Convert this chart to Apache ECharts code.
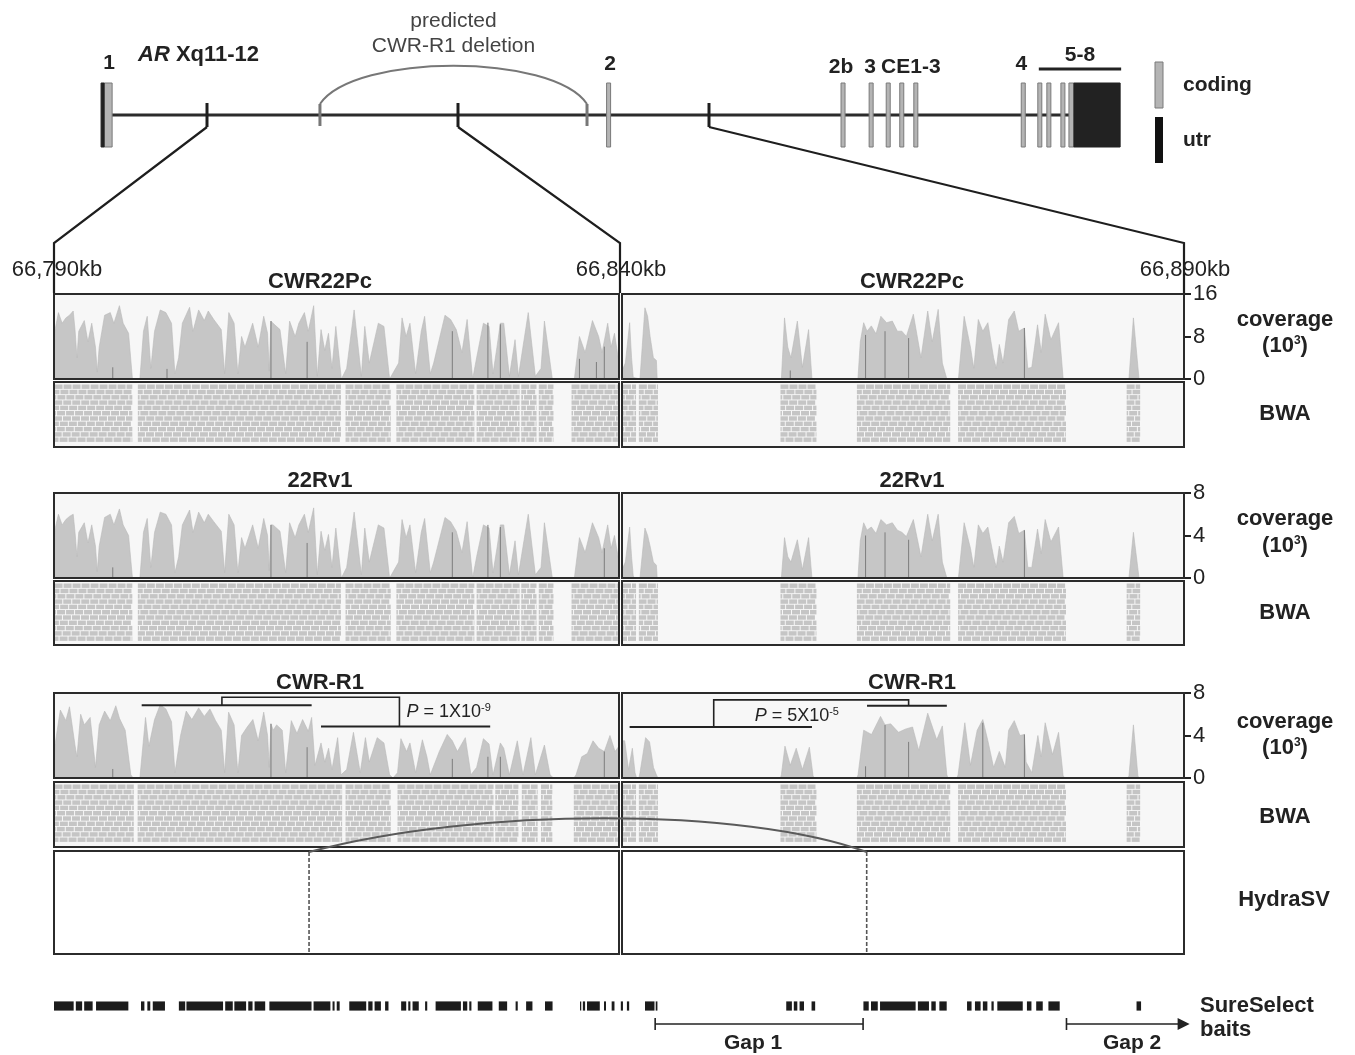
<!DOCTYPE html>
<html>
<head>
<meta charset="utf-8">
<script src="https://cdn.jsdelivr.net/npm/echarts@6/dist/echarts.min.js"></script>
<style>
html,body{margin:0;padding:0;background:#fff;}
#chart{width:1355px;height:1055px;}
</style>
</head>
<body>
<div id="chart"></div>
<script>
// ======================= DATA =======================
const windowStarts = [66790, 66840];           // kb, left / right window
const positionLabels = ['66,790kb', '66,840kb', '66,890kb'];
const sampleNames = ['CWR22Pc', '22Rv1', 'CWR-R1'];
const coverageMax = [16, 8, 8];                 // 10^3 reads
const coverageStep = [8, 4, 4];

// ---- AR gene model (kb on chrX) ----
const geneBackbone = [[66770.5, 66962.7]];
const exonsCoding = [[66769.5,66771.1],[66869.6,66870.4],[66916.3,66917.1],[66921.9,66922.7],
  [66925.3,66926.1],[66928.0,66928.8],[66930.8,66931.6],[66952.2,66953.0],[66955.5,66956.3],
  [66957.3,66958.1],[66960.1,66960.9],[66961.7,66962.7]];
const exonsUtr = [[66768.9,66769.5],[66962.7,66971.9]];
const zoomTicks = [66790, 66840, 66890];
const predictedDeletion = [[66812.5, 66865.7]];
const exonLabels = [['1',66770.5],['2',66870.3],['2b',66916.3],['3',66922.1],['CE1-3',66930.2],['4',66952.2]];
const exonGroup58 = [[66955.7, 66972.1, '5-8']];

// ---- coverage: [kb offset from window start, coverage (10^3)] ----
const covCWR22PcLeft = [[0,0],[0.07,9],[0.39,12.5],[0.72,10.5],[1.05,11.5],[1.37,12],[1.7,12.8],[1.87,9],[2.03,4],[2.19,9],[2.68,11],[3.0,7],[3.34,10.5],[3.67,6],[3.83,1.3],[4.0,6],[4.48,12],[4.98,12.5],[5.3,10.5],[5.79,13.8],[6.12,10.5],[6.6,8.6],[6.94,0],
 [7.6,0],[7.92,9],[8.25,11.8],[8.57,2],[8.9,9],[9.4,13],[9.9,12.5],[10.4,10.5],[10.7,1],[11.03,4],[11.36,10.5],[12.0,13.5],[12.3,9],[12.8,13],[13.3,11],[13.65,12.8],[14.14,11.2],[14.8,9.3],[15.1,1],[15.47,12.5],[15.94,10.5],[16.27,1],[16.6,8],[16.9,6],[17.58,10.5],[18.07,6],[18.56,11.8],[18.9,8.6],[19.05,1.5],[19.2,10.9],[19.38,10.5],[20.0,9.3],[20.5,1],[20.85,10.9],[21.34,8],[21.67,10.5],[22.16,12.5],[22.5,9],[22.98,13.8],[23.3,0.5],[23.63,9.3],[23.96,5.4],[24.29,8.6],[24.6,2],[24.94,9.9],[25.43,0],
 [25.9,2],[26.56,13],[27.2,0.5],[27.5,9.9],[27.9,3],[28.7,10.5],[29.2,9.9],[29.7,0],
 [30.5,3],[30.8,11.5],[31.16,8],[31.5,10.5],[32.0,1],[32.5,9],[32.8,11.8],[33.3,1],[33.6,3],[34.6,12],[35.1,11.2],[35.6,9.3],[36.1,5],[36.56,11.2],[37.05,0],[37.4,4],[38.0,10.5],[38.5,9.9],[38.85,1],[39.2,6],[39.5,10.5],[39.8,10.5],[40.3,0.5],[40.8,7.4],[41.1,0.5],[41.97,12.5],[42.6,0.5],[43.1,2],[43.4,10.9],[44.1,0],
 [46.05,0],[46.5,8],[47.0,5],[47.65,11],[48.2,8],[48.5,5],[49.0,10.5],[49.3,6],[49.6,8.6],[50,3]];
const covCWR22PcRight = [[0,1.6],[0.3,3],[0.68,10.6],[0.85,4],[1.0,0.3],[1.1,0],[1.6,0],[2.04,13.4],[2.28,11.8],[2.5,8],[2.79,4],[3.06,3.5],[3.13,0],
 [14.18,0],[14.46,11.5],[14.75,6],[15.03,4],[15.6,10.9],[16.05,2.2],[16.6,9.3],[16.9,0],
 [20.99,0],[21.2,7],[21.5,10.6],[21.8,9],[22.18,10],[22.6,8.5],[23.03,11.8],[23.54,10.6],[24.05,10.9],[24.5,9],[24.9,9],[25.3,8],[25.92,12.2],[26.6,4],[27.2,12.8],[27.6,7],[28.13,13.1],[28.5,3],[28.9,0],
 [29.93,0],[30.44,11.8],[31.0,6],[31.3,2],[31.7,11.2],[32.1,9],[32.55,10.6],[33.06,4],[33.3,2],[33.57,6.5],[33.9,3],[34.4,11.2],[34.9,12.8],[35.3,9],[35.8,9.6],[36.1,2],[36.46,2.2],[36.97,10.2],[37.3,5],[37.65,12.2],[38.16,7.4],[38.84,10.6],[39.25,0],
 [45.1,0],[45.5,11.5],[46.0,0]];
const cov22Rv1Left = [[0,0],[0.07,4.5],[0.39,6],[0.72,5],[1.05,5.5],[1.37,5.8],[1.7,6],[1.87,4.2],[2.03,2],[2.19,4.3],[2.68,5.2],[3.0,3.3],[3.34,5],[3.67,3],[3.83,0.6],[4.0,3],[4.48,5.7],[4.98,6],[5.3,5],[5.79,6.5],[6.12,5],[6.6,4],[6.94,0],[7.6,0],[7.92,4.3],[8.25,5.6],[8.57,1],[8.9,4.3],[9.4,6.2],[9.9,6],[10.4,5],[10.7,0.5],[11.03,2],[11.36,5],[12.0,6.4],[12.3,4.3],[12.8,6.2],[13.3,5.2],[13.65,6],[14.14,5.3],[14.8,4.4],[15.1,0.5],[15.47,6],[15.94,5],[16.27,0.5],[16.6,3.8],[16.9,2.8],[17.58,5],[18.07,2.8],[18.56,5.6],[18.9,4],[19.05,0.7],[19.2,5],[19.38,5],[20.0,4.4],[20.5,0.5],[20.85,5.2],[21.34,3.8],[21.67,5],[22.16,6],[22.5,4.3],[22.98,6.6],[23.3,0.3],[23.63,4.4],[23.96,2.6],[24.29,4.1],[24.6,1],[24.94,4.7],[25.43,0],[25.9,1],[26.56,6.2],[27.2,0.3],[27.5,4.7],[27.9,1.5],[28.7,5],[29.2,4.7],[29.7,0],[30.5,1.5],[30.8,5.5],[31.16,3.8],[31.5,5],[32.0,0.5],[32.5,4.3],[32.8,5.6],[33.3,0.5],[33.6,1.5],[34.6,5.7],[35.1,5.3],[35.6,4.4],[36.1,2.4],[36.56,5.3],[37.05,0],[37.4,2],[38.0,5],[38.5,4.7],[38.85,0.5],[39.2,2.8],[39.5,5],[39.8,5],[40.3,0.3],[40.8,3.5],[41.1,0.3],[41.97,6],[42.6,0.3],[43.1,1],[43.4,5.2],[44.1,0],[46.05,0],[46.5,3.8],[47.0,2.4],[47.65,5.2],[48.2,3.8],[48.5,2.4],[49.0,5],[49.3,2.8],[49.6,4],[50,1.5]];
const cov22Rv1Right = [[0,0.8],[0.3,1.5],[0.68,4.8],[0.85,2],[1.0,0.2],[1.1,0],[1.6,0],[2.04,4.7],[2.28,4],[2.5,3],[2.79,1.5],[3.06,1.2],[3.13,0],[14.18,0],[14.46,3.8],[14.75,2],[15.03,1.5],[15.6,3.6],[16.05,0.8],[16.6,3.8],[16.9,0],[20.99,0],[21.2,3.5],[21.5,5.2],[21.8,4.5],[22.18,4.8],[22.6,4.2],[23.03,5.5],[23.54,5],[24.05,5.2],[24.5,4.5],[24.9,4.3],[25.3,3.9],[25.92,5.5],[26.6,2],[27.2,6],[27.6,3.5],[28.13,6],[28.5,1.5],[28.9,0],[29.93,0],[30.44,5.2],[31.0,2.8],[31.3,1],[31.7,5],[32.1,4.2],[32.55,4.8],[33.06,2],[33.3,1],[33.57,3],[33.9,1.5],[34.4,5.2],[34.9,5.8],[35.3,4.2],[35.8,4.5],[36.1,1],[36.46,1],[36.97,4.6],[37.3,2.3],[37.65,5.5],[38.16,3.4],[38.84,4.8],[39.25,0],[45.1,0],[45.5,4.3],[46.0,0]];
const covCWRR1Left = [[0,0],[0.07,3],[0.56,6.4],[1.05,5.4],[1.37,6.7],[1.87,3],[2.03,2],[2.36,6],[2.68,5],[3.2,5.7],[3.67,1],[4.0,5],[4.48,6.3],[4.98,5.4],[5.47,6.8],[5.8,5.6],[6.3,4.5],[6.8,0.3],[7.0,0],[7.6,0],[8.1,5.7],[8.4,3],[8.9,5.5],[9.4,6.9],[9.9,6.5],[10.4,5.3],[10.7,0.5],[11.2,4],[11.7,6.3],[12.2,5.5],[12.8,6.6],[13.3,5.8],[13.8,6.5],[14.3,5.4],[14.8,4.5],[15.1,0.5],[15.45,6.2],[15.94,5],[16.27,0.5],[16.6,4],[17.1,4.8],[17.6,5.5],[18.07,3.5],[18.56,6.2],[18.9,4],[19.05,1],[19.2,5.1],[19.4,4.5],[19.7,5],[20.2,4.5],[20.5,0.5],[21.0,5.4],[21.5,4.2],[22.0,5.5],[22.5,4.4],[22.8,5.7],[23.1,1.2],[23.63,3.3],[23.96,1.5],[24.3,2.8],[24.6,0.8],[25.1,3.8],[25.4,0.3],[25.9,0.8],[26.5,4.3],[27.1,0.5],[27.56,3.8],[27.9,1.5],[28.6,3.8],[29.2,3.3],[29.7,0.3],[30.0,0],[30.4,0.5],[30.7,3.7],[31.2,2.5],[31.5,3.3],[32.0,0.5],[32.6,3.6],[33.0,2],[33.3,0.3],[34.1,2.5],[34.8,4.1],[35.25,3.5],[35.7,2.5],[36.4,3.8],[36.9,0.3],[37.4,1],[38.0,3.7],[38.5,3.2],[38.85,0.3],[39.5,3.3],[39.8,2.8],[40.3,0.3],[41.0,3.5],[41.5,0.3],[42.2,3.8],[42.6,0.3],[43.4,3.1],[43.9,0.3],[44.2,0],[46.0,0],[46.2,0.3],[46.7,2],[47.2,2.3],[47.7,3.5],[48.2,2.8],[48.7,2.5],[49.2,4],[49.65,2.5],[50,3]];
const covCWRR1Right = [[0,3.5],[0.24,3.5],[0.58,0.8],[0.92,2.8],[1.16,0.5],[1.3,0],[1.5,0],[1.6,0.5],[2.1,3.8],[2.45,3.4],[2.8,1],[3.06,0.3],[3.2,0],[14.1,0],[14.18,0.3],[14.5,3],[14.97,1.2],[15.5,2.8],[16.05,0.8],[16.67,2.9],[17.0,0.2],[17.1,0],[20.9,0],[21.0,0.3],[21.5,4.5],[22.2,4.1],[23.0,5.8],[23.4,5],[23.9,5.1],[24.6,4.3],[25.2,4.6],[25.85,4.8],[26.4,2.6],[27.2,6.1],[28.0,3.6],[28.5,4.9],[28.9,0.3],[29.0,0],[29.8,0],[29.9,0.3],[30.5,5.2],[31.0,1.2],[31.6,4.5],[32.1,5.5],[32.55,3.5],[33.06,1],[33.57,2.5],[34.1,1],[34.4,4.5],[34.9,5.4],[35.4,4],[35.8,4.1],[35.95,1.5],[36.46,0.5],[37.0,4],[37.3,2],[37.65,5.2],[38.3,2.2],[38.84,4.3],[39.25,0.2],[39.4,0],[45.0,0],[45.1,0.2],[45.5,5],[45.9,0.2],[46.0,0]];

// ---- thin dark single-position spikes in coverage: [kb offset, height] ----
const darkCWR22PcLeft = [[5.2,2.2],[10.0,1.9],[19.2,10.9],[22.4,7.0],[35.25,9],[38.4,10.6],[39.5,10.3],[46.5,3.8],[48.0,3.2],[48.7,6.1]];
const darkCWR22PcRight = [[14.97,1.6],[21.67,8.3],[23.4,9],[25.5,7.7],[35.8,9.6]];
const dark22Rv1Left = [[5.2,1],[19.2,5],[22.4,3.3],[35.25,4.3],[38.4,5],[39.5,4.8],[48.7,2.8]];
const dark22Rv1Right = [[21.67,4],[23.4,4.3],[25.5,3.6],[35.8,4.5]];
const darkCWRR1Left = [[5.2,0.85],[19.2,5.1],[22.4,2.9],[35.25,1.8],[38.4,2],[39.5,2],[48.7,2.5]];
const darkCWRR1Right = [[21.67,1.1],[23.4,5],[25.5,3.4],[32.1,5.2],[35.8,4.1]];

// ---- BWA read blocks: [start, end] kb offset ----
const bwaCWR22PcLeft = [[0.05,6.93],[7.42,25.4],[25.8,29.8],[30.3,37.2],[37.4,41.2],[41.35,42.7],[42.9,44.2],[45.8,49.9]];
const bwaCWR22PcRight = [[0.09,1.25],[1.5,3.2],[14.1,17.3],[20.9,29.2],[29.9,39.5],[44.9,46.1]];
const bwa22Rv1Left = [[0.05,6.93],[7.42,25.4],[25.8,29.8],[30.3,37.2],[37.4,41.2],[41.35,42.7],[42.9,44.2],[45.8,49.9]];
const bwa22Rv1Right = [[0.09,1.25],[1.5,3.2],[14.1,17.3],[20.9,29.2],[29.9,39.5],[44.9,46.1]];
const bwaCWRR1Left = [[0.05,7.06],[7.4,25.5],[25.8,29.8],[30.4,38.9],[39.05,41.1],[41.4,42.8],[43.1,44.1],[46.0,49.9]];
const bwaCWRR1Right = [[0.09,1.25],[1.5,3.2],[14.1,17.3],[20.9,29.2],[29.9,39.5],[44.9,46.1]];

// ---- CWR-R1 segmentation: [start, end, mean coverage] and brackets ----
const segCWRR1Left = [[7.76,22.8,6.85],[23.63,38.6,4.85]];
const segCWRR1Right = [[0.68,16.9,4.8],[21.8,28.9,6.8]];
const bracketCWRR1Left = [[14.86,6.85,30.57,4.85,7.6]];
const bracketCWRR1Right = [[8.16,4.8,25.5,6.8,7.35]];
const pValueLeft = [[31.2, 6.2, '1X10', '-9']];
const pValueRight = [[11.8, 5.8, '5X10', '-5']];

// ---- HydraSV breakpoints (kb offset) ----
const hydraBreakLeft = [[22.57]];
const hydraBreakRight = [[21.77]];

// ---- SureSelect baits (kb offset from 66,790kb) and gaps ----
const baitIntervals = [[0,1.74],[1.93,2.49],[2.67,3.42],[3.72,6.58],[7.7,8.0],[8.26,8.52],[8.74,9.82],[11.05,11.61],[11.72,14.96],[15.15,15.82],[15.96,17.0],[17.19,17.57],[17.75,18.69],[19.06,22.79],[22.97,24.46],[24.65,24.83],[25.02,25.28],[26.13,27.63],[27.81,28.19],[28.37,28.93],[29.3,29.6],[30.72,31.17],[31.35,31.54],[31.73,32.28],[32.84,33.03],[33.77,36.01],[36.19,36.57],[36.75,36.94],[37.5,38.8],[39.36,40.1],[40.85,41.04],[41.78,42.34],[43.45,44.12],[46.55,46.66],[46.8,47.0],[47.17,48.3],[48.67,48.85],[49.35,49.6],[50.16,50.35],[50.7,50.9],[52.3,53.14],[53.25,53.4],[64.8,65.3],[65.47,65.78],[65.98,66.37],[67.04,67.36],[71.63,72.1],[72.3,72.9],[73.1,76.25],[76.45,77.43],[77.64,78.03],[78.35,79.0],[80.8,81.2],[81.5,82.0],[82.2,82.6],[82.96,83.16],[83.48,85.73],[86.1,86.5],[86.92,87.5],[88.0,89.0],[95.8,96.2]];
const gaps = [[53.2, 71.6, 'Gap 1', 'bar'], [89.6, 100.5, 'Gap 2', 'arrow']];

// ======================= CHART =======================
const FONT = '"Liberation Sans", Arial, Helvetica, sans-serif';
const chart = echarts.init(document.getElementById('chart'), null, {renderer: 'canvas'});

const grids = [], xAxis = [], yAxis = [], series = [];
function addGrid(rect, xr, yr, yExtra, bg) {
  const i = grids.length;
  grids.push({left: rect[0], top: rect[1], width: rect[2], height: rect[3], show: !!bg,
    backgroundColor: bg || 'transparent', borderWidth: 0});
  xAxis.push({gridIndex: i, type: 'value', min: xr[0], max: xr[1], show: false, axisLine: {onZero: false}});
  yAxis.push(Object.assign({gridIndex: i, type: 'value', min: yr[0], max: yr[1], show: false}, yExtra || {axisLine: {onZero: false}}));
  return i;
}
function frame(i) {
  series.push({type: 'custom', xAxisIndex: i, yAxisIndex: i, z: 20, silent: true, data: [[0, 0]],
    renderItem: (p) => ({type: 'rect', shape: {x: p.coordSys.x, y: p.coordSys.y, width: p.coordSys.width, height: p.coordSys.height},
      style: {fill: 'none', stroke: '#2b2b2b', lineWidth: 2}})});
}
function textStyle(text, size, weight, color, align, extra) {
  return Object.assign({text: text, fill: color || '#222', font: (weight || 'normal') + ' ' + size + 'px ' + FONT,
    textAlign: align || 'center', align: align || 'center', textVerticalAlign: 'middle', verticalAlign: 'middle'}, extra || {});
}

// ---------- gene model grid ----------
const G = addGrid([6.2, 15, 1154.6, 200], [66750, 66980], [-1, 1]);
series.push({type: 'custom', xAxisIndex: G, yAxisIndex: G, silent: true, z: 2, data: geneBackbone,
  renderItem: (p, api) => {
    const a = api.coord([api.value(0), 0]), b = api.coord([api.value(1), 0]);
    return {type: 'line', shape: {x1: a[0], y1: a[1], x2: b[0], y2: b[1]}, style: {stroke: '#2b2b2b', lineWidth: 3}};
  }});
series.push({type: 'custom', xAxisIndex: G, yAxisIndex: G, silent: true, z: 3, data: zoomTicks.map(v => [v]),
  renderItem: (p, api) => {
    const a = api.coord([api.value(0), 0]);
    return {type: 'line', shape: {x1: a[0], y1: a[1] - 12, x2: a[0], y2: a[1] + 12}, style: {stroke: '#1e1e1e', lineWidth: 3}};
  }});
series.push({type: 'custom', xAxisIndex: G, yAxisIndex: G, silent: true, z: 3, data: predictedDeletion,
  renderItem: (p, api) => {
    const a = api.coord([api.value(0), 0]), b = api.coord([api.value(1), 0]);
    const w = b[0] - a[0], top = a[1] - 11;
    return {type: 'group', children: [
      {type: 'line', shape: {x1: a[0], y1: top, x2: a[0], y2: a[1] + 11}, style: {stroke: '#777', lineWidth: 3}},
      {type: 'line', shape: {x1: b[0], y1: top, x2: b[0], y2: b[1] + 11}, style: {stroke: '#777', lineWidth: 3}},
      {type: 'bezierCurve', shape: {x1: a[0], y1: top, x2: b[0], y2: top, cpx1: a[0] + 0.13 * w, cpy1: top - 51, cpx2: b[0] - 0.13 * w, cpy2: top - 51},
        style: {stroke: '#777', lineWidth: 2, fill: 'none'}},
      {type: 'text', x: (a[0] + b[0]) / 2, y: top - 83, style: textStyle('predicted', 21, 'normal', '#444')},
      {type: 'text', x: (a[0] + b[0]) / 2, y: top - 58, style: textStyle('CWR-R1 deletion', 21, 'normal', '#444')}
    ]};
  }});
function exonRender(fill, stroke) {
  return (p, api) => {
    const a = api.coord([api.value(0), 0]), b = api.coord([api.value(1), 0]);
    return {type: 'rect', shape: {x: a[0], y: a[1] - 32, width: Math.max(b[0] - a[0], 2.5), height: 64},
      style: {fill: fill, stroke: stroke, lineWidth: 1}};
  };
}
series.push({type: 'custom', xAxisIndex: G, yAxisIndex: G, silent: true, z: 4, data: exonsCoding, renderItem: exonRender('#b4b4b4', '#7a7a7a')});
series.push({type: 'custom', xAxisIndex: G, yAxisIndex: G, silent: true, z: 4, data: exonsUtr, renderItem: exonRender('#222', '#222')});
const exonLabelLift = {'1': 52, '2': 51, '2b': 48, '3': 48, 'CE1-3': 48, '4': 51};
series.push({type: 'custom', xAxisIndex: G, yAxisIndex: G, silent: true, z: 5, data: exonLabels.map(d => [d[1], 0]),
  renderItem: (p, api) => {
    const lab = exonLabels[p.dataIndex][0];
    const a = api.coord([api.value(0), 0]);
    return {type: 'text', x: a[0], y: a[1] - exonLabelLift[lab], style: textStyle(lab, 21, 'bold', '#222')};
  }});
series.push({type: 'custom', xAxisIndex: G, yAxisIndex: G, silent: true, z: 5, data: exonGroup58.map(d => [d[0], d[1]]),
  renderItem: (p, api) => {
    const a = api.coord([api.value(0), 0]), b = api.coord([api.value(1), 0]);
    return {type: 'group', children: [
      {type: 'line', shape: {x1: a[0], y1: a[1] - 46, x2: b[0], y2: b[1] - 46}, style: {stroke: '#222', lineWidth: 3}},
      {type: 'text', x: (a[0] + b[0]) / 2, y: a[1] - 60, style: textStyle(exonGroup58[0][2], 21, 'bold', '#222')}
    ]};
  }});

// ---------- sample panels ----------
const L = [54, 565], R = [622, 562];
const rows = [
  {cov: [294, 85], bwa: [382, 65], title: 282, lab: [320, 346, 414]},
  {cov: [493, 85], bwa: [581, 64], title: 481, lab: [519, 546, 613]},
  {cov: [693, 85], bwa: [782, 65], hydra: [851, 103], title: 683, lab: [722, 748, 817], hlab: 900}
];
const covData = [[covCWR22PcLeft, covCWR22PcRight], [cov22Rv1Left, cov22Rv1Right], [covCWRR1Left, covCWRR1Right]];
const darkData = [[darkCWR22PcLeft, darkCWR22PcRight], [dark22Rv1Left, dark22Rv1Right], [darkCWRR1Left, darkCWRR1Right]];
const bwaData = [[bwaCWR22PcLeft, bwaCWR22PcRight], [bwa22Rv1Left, bwa22Rv1Right], [bwaCWRR1Left, bwaCWRR1Right]];
const covGrid = [];

function renderReads(p, api) {
  const cs = p.coordSys;
  const xa = api.coord([api.value(0), 0])[0], xb = api.coord([api.value(1), 0])[0];
  const top = cs.y + 2.5, bottom = cs.y + cs.height - 2;
  const rowH = 5.3, readLen = 8, gapW = 1;
  const children = [];
  let r = 0;
  for (let y = top; y + rowH - 1 <= bottom + 0.01; y += rowH, r++) {
    const off = (r * 3.1) % (readLen + gapW);
    for (let x = xa - off; x < xb; x += readLen + gapW) {
      const a = Math.max(x, xa), b = Math.min(x + readLen, xb);
      if (b - a > 0.6) children.push({type: 'rect', shape: {x: a, y: y, width: b - a, height: rowH - 0.9}, style: {fill: '#c5c5c5'}});
    }
  }
  return {type: 'group', children: children};
}

rows.forEach((row, s) => {
  covGrid.push([]);
  [L, R].forEach((side, k) => {
    const yExtra = k === 1 ? {
      show: true, position: 'right', interval: coverageStep[s],
      axisLine: {show: true, onZero: false, lineStyle: {color: '#222', width: 2}},
      axisTick: {show: true, length: 7, lineStyle: {color: '#222', width: 2}},
      axisLabel: {show: true, fontSize: 22, color: '#222', margin: 9, fontFamily: FONT},
      splitLine: {show: false}
    } : null;
    const gc = addGrid([side[0], row.cov[0], side[1], row.cov[1]], [0, 50], [0, coverageMax[s]], yExtra, '#f7f7f7');
    covGrid[s].push(gc);
    series.push({type: 'line', xAxisIndex: gc, yAxisIndex: gc, data: covData[s][k], symbol: 'none', silent: true, z: 3,
      lineStyle: {width: 0.6, color: '#b8b8b8'}, areaStyle: {color: '#c6c6c6', opacity: 1}, clip: true});
    series.push({type: 'custom', xAxisIndex: gc, yAxisIndex: gc, data: darkData[s][k], silent: true, z: 4,
      renderItem: (p, api) => {
        const a = api.coord([api.value(0), 0]), b = api.coord([api.value(0), api.value(1)]);
        return {type: 'line', shape: {x1: a[0], y1: a[1], x2: b[0], y2: b[1]}, style: {stroke: '#7c7c7c', lineWidth: 1}};
      }});
    frame(gc);
    const gb = addGrid([side[0], row.bwa[0], side[1], row.bwa[1]], [0, 50], [0, 1], null, '#f7f7f7');
    series.push({type: 'custom', xAxisIndex: gb, yAxisIndex: gb, data: bwaData[s][k], renderItem: renderReads, silent: true, z: 3});
    frame(gb);
  });
});

// CWR-R1 segmentation annotation
function annotate(gi, segs, brackets, pv) {
  series.push({type: 'custom', xAxisIndex: gi, yAxisIndex: gi, silent: true, z: 8, data: segs,
    renderItem: (p, api) => {
      const a = api.coord([api.value(0), api.value(2)]), b = api.coord([api.value(1), api.value(2)]);
      return {type: 'line', shape: {x1: a[0], y1: a[1], x2: b[0], y2: b[1]}, style: {stroke: '#222', lineWidth: 2}};
    }});
  series.push({type: 'custom', xAxisIndex: gi, yAxisIndex: gi, silent: true, z: 8, data: brackets,
    renderItem: (p, api) => {
      const a = api.coord([api.value(0), api.value(1)]), at = api.coord([api.value(0), api.value(4)]);
      const b = api.coord([api.value(2), api.value(3)]), bt = api.coord([api.value(2), api.value(4)]);
      return {type: 'polyline', shape: {points: [a, at, bt, b]}, style: {stroke: '#222', lineWidth: 1.6, fill: 'none'}};
    }});
  series.push({type: 'custom', xAxisIndex: gi, yAxisIndex: gi, silent: true, z: 9, data: pv.map(d => [d[0], d[1]]),
    renderItem: (p, api) => {
      const a = api.coord([api.value(0), api.value(1)]);
      const d = pv[p.dataIndex];
      return {type: 'text', x: a[0], y: a[1], style: textStyle('{i|P} = ' + d[2] + '{s|' + d[3] + '}', 18, 'normal', '#222', 'left', {
        rich: {i: {fontStyle: 'italic', fontSize: 18, fontFamily: FONT, fill: '#222'},
               s: {fontSize: 11, fontFamily: FONT, verticalAlign: 'top', lineHeight: 20, fill: '#222'}}})};
    }});
}
annotate(covGrid[2][0], segCWRR1Left, bracketCWRR1Left, pValueLeft);
annotate(covGrid[2][1], segCWRR1Right, bracketCWRR1Right, pValueRight);

// HydraSV
const hydraRow = rows[2].hydra;
const hydraGrids = [];
[[L, hydraBreakLeft], [R, hydraBreakRight]].forEach(([side, bp]) => {
  const gh = addGrid([side[0], hydraRow[0], side[1], hydraRow[1]], [0, 50], [0, 1], null, '#ffffff');
  hydraGrids.push(gh);
  series.push({type: 'custom', xAxisIndex: gh, yAxisIndex: gh, silent: true, z: 5, data: bp,
    renderItem: (p, api) => {
      const x = api.coord([api.value(0), 0])[0], cs = p.coordSys;
      return {type: 'line', shape: {x1: x, y1: cs.y + 1, x2: x, y2: cs.y + cs.height - 1}, style: {stroke: '#555', lineWidth: 1.6, lineDash: [4, 2]}};
    }});
  frame(gh);
});

// Baits track
const GB = addGrid([54, 996, 1130, 20], [0, 100], [0, 1]);
series.push({type: 'custom', xAxisIndex: GB, yAxisIndex: GB, silent: true, z: 5, data: baitIntervals,
  renderItem: (p, api) => {
    const a = api.coord([api.value(0), 0.5]), b = api.coord([api.value(1), 0.5]);
    return {type: 'rect', shape: {x: a[0], y: a[1] - 4.6, width: Math.max(b[0] - a[0], 1.2), height: 9.2}, style: {fill: '#1c1c1c'}};
  }});
series.push({type: 'custom', xAxisIndex: GB, yAxisIndex: GB, silent: true, z: 5, data: gaps.map(d => [d[0], d[1]]),
  renderItem: (p, api) => {
    const g = gaps[p.dataIndex];
    const a = api.coord([api.value(0), 0.5]), b = api.coord([api.value(1), 0.5]);
    const y = a[1] + 18;
    const ch = [
      {type: 'line', shape: {x1: a[0], y1: y, x2: b[0] - (g[3] === 'arrow' ? 6 : 0), y2: y}, style: {stroke: '#222', lineWidth: 1.6}},
      {type: 'line', shape: {x1: a[0], y1: y - 6, x2: a[0], y2: y + 6}, style: {stroke: '#222', lineWidth: 1.6}},
      {type: 'text', x: (a[0] + b[0]) / 2 + (g[3] === 'arrow' ? 4 : -6), y: y + 19, style: textStyle(g[2], 21, 'bold', '#222')}
    ];
    if (g[3] === 'arrow') ch.push({type: 'polygon', shape: {points: [[b[0], y], [b[0] - 12, y - 6], [b[0] - 12, y + 6]]}, style: {fill: '#222'}});
    else ch.push({type: 'line', shape: {x1: b[0], y1: y - 6, x2: b[0], y2: y + 6}, style: {stroke: '#222', lineWidth: 1.6}});
    return {type: 'group', children: ch};
  }});

chart.setOption({animation: false, grid: grids, xAxis: xAxis, yAxis: yAxis, series: series});

// ---------- overlay graphics (zoom lines, labels) ----------
const gfx = [];
function gtext(x, y, text, size, weight, color, align, extra) {
  gfx.push({type: 'text', x: x, y: y, z: 100, silent: true, style: textStyle(text, size, weight, color, align, extra)});
}
const panelTargets = [
  chart.convertToPixel({gridIndex: covGrid[0][0]}, [0, coverageMax[0]]),
  chart.convertToPixel({gridIndex: covGrid[0][0]}, [50, coverageMax[0]]),
  chart.convertToPixel({gridIndex: covGrid[0][1]}, [50, coverageMax[0]])
];
zoomTicks.forEach((kb, i) => {
  const g = chart.convertToPixel({gridIndex: G}, [kb, 0]);
  const t = panelTargets[i];
  const t0 = i === 1 ? t[0] + 1 : t[0];
  gfx.push({type: 'polyline', z: 50, silent: true, shape: {points: [[g[0], g[1] + 12], [t0, t[1] - 51], [t0, t[1] - 1]]},
    style: {stroke: '#1e1e1e', lineWidth: 2.2, fill: 'none'}});
  gtext(t0 + (i === 0 ? 3 : 1), t[1] - 24, positionLabels[i], 22, 'normal', '#222');
});
const sa = chart.convertToPixel({gridIndex: hydraGrids[0]}, [hydraBreakLeft[0][0], 1]);
const sb = chart.convertToPixel({gridIndex: hydraGrids[1]}, [hydraBreakRight[0][0], 1]);
const sw = sb[0] - sa[0];
gfx.push({type: 'bezierCurve', z: 60, silent: true,
  shape: {x1: sa[0], y1: sa[1] + 1, x2: sb[0], y2: sb[1] + 1, cpx1: sa[0] + 0.3 * sw, cpy1: sa[1] - 44, cpx2: sb[0] - 0.22 * sw, cpy2: sb[1] - 44},
  style: {stroke: '#5a5a5a', lineWidth: 2, fill: 'none'}});

rows.forEach((row, s) => {
  gtext(320, row.title, sampleNames[s], 22, 'bold', '#222');
  gtext(912, row.title, sampleNames[s], 22, 'bold', '#222');
  gtext(1285, row.lab[0], 'coverage', 22, 'bold', '#222');
  gtext(1285, row.lab[1], '(10{s|3})', 22, 'bold', '#222', 'center',
    {rich: {s: {fontSize: 12, fontWeight: 'bold', fontFamily: FONT, verticalAlign: 'top', lineHeight: 22, fill: '#222'}}});
  gtext(1285, row.lab[2], 'BWA', 22, 'bold', '#222');
  if (row.hlab) gtext(1284, row.hlab, 'HydraSV', 22, 'bold', '#222');
});
gtext(1200, 1006, 'SureSelect', 22, 'bold', '#222', 'left');
gtext(1200, 1030, 'baits', 22, 'bold', '#222', 'left');
gtext(138, 55, '{i|AR} Xq11-12', 22, 'bold', '#222', 'left',
  {rich: {i: {fontStyle: 'italic', fontWeight: 'bold', fontSize: 22, fontFamily: FONT, fill: '#222'}}});
gfx.push({type: 'rect', z: 50, silent: true, shape: {x: 1155, y: 62, width: 8, height: 46}, style: {fill: '#b4b4b4', stroke: '#7a7a7a', lineWidth: 1}});
gfx.push({type: 'rect', z: 50, silent: true, shape: {x: 1155, y: 117, width: 8, height: 46}, style: {fill: '#111'}});
gtext(1183, 85, 'coding', 21, 'bold', '#222', 'left');
gtext(1183, 140, 'utr', 21, 'bold', '#222', 'left');

chart.setOption({graphic: gfx});
</script>
</body>
</html>
